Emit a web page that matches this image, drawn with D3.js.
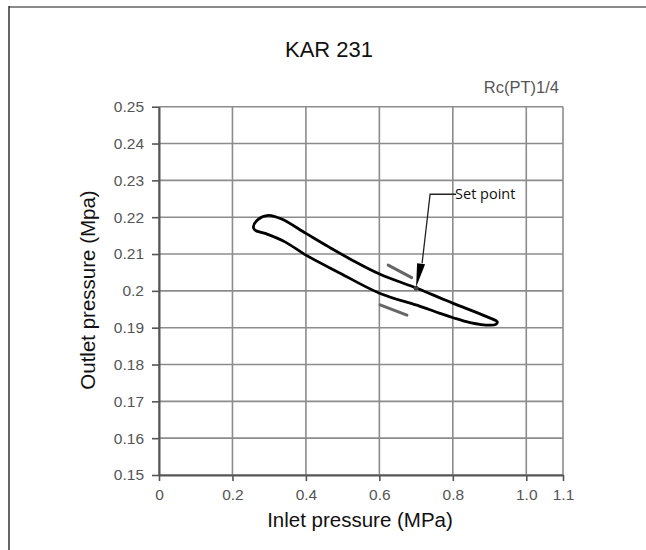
<!DOCTYPE html>
<html>
<head>
<meta charset="utf-8">
<script src="https://cdn.jsdelivr.net/npm/d3@7"></script>
<style>
  html, body { margin: 0; padding: 0; background: #fff; overflow: hidden; }
  svg { display: block; }
</style>
</head>
<body>
<svg id="chart" width="646" height="550"></svg>
<script>
// ---- data ----
const title = "KAR 231";
const portLabel = "Rc(PT)1/4";
const xTickValues = [0, 0.2, 0.4, 0.6, 0.8, 1.0, 1.1];
const xTickLabels = ["0", "0.2", "0.4", "0.6", "0.8", "1.0", "1.1"];
const yTickValues = [0.15, 0.16, 0.17, 0.18, 0.19, 0.2, 0.21, 0.22, 0.23, 0.24, 0.25];
const yTickLabels = ["0.15", "0.16", "0.17", "0.18", "0.19", "0.2", "0.21", "0.22", "0.23", "0.24", "0.25"];
// hysteresis loop (inlet MPa, outlet MPa), traced clockwise
const loopX = [0.257, 0.270, 0.298, 0.334, 0.400, 0.461, 0.525, 0.602, 0.702, 0.765, 0.801, 0.892, 0.921, 0.917,
               0.901, 0.847, 0.801, 0.765, 0.711, 0.602, 0.493, 0.400, 0.343, 0.289, 0.261];
const loopY = [0.2174, 0.2194, 0.2205, 0.2195, 0.2156, 0.2120, 0.2084, 0.2045, 0.2007, 0.1981, 0.1966, 0.1930, 0.1916, 0.1909,
               0.1907, 0.1914, 0.1927, 0.1939, 0.1958, 0.1993, 0.2048, 0.2097, 0.2133, 0.2156, 0.2165];
const setPoint = [0.70, 0.2007];
const setPointLabel = "Set point";
// direction dashes (start/end in data units)
const dashUpper = [[0.624, 0.2070], [0.688, 0.2036]];
const dashLower = [[0.602, 0.1962], [0.675, 0.1934]];
const xTitle = "Inlet pressure (MPa)";
const yTitle = "Outlet pressure (Mpa)";

// ---- layout ----
const svg = d3.select("#chart");
const x = d3.scaleLinear().domain([0, 1.1]).range([159, 563]);
const y = d3.scaleLinear().domain([0.15, 0.25]).range([475, 106.7]);
const sans = "Arial, 'Liberation Sans', sans-serif";

// frame
svg.append("line").attr("x1", 9).attr("x2", 646).attr("y1", 7).attr("y2", 7)
  .attr("stroke", "#8a8a8a").attr("stroke-width", 2);
svg.append("line").attr("x1", 9).attr("x2", 9).attr("y1", 6).attr("y2", 550)
  .attr("stroke", "#333").attr("stroke-width", 1.5);

// title
svg.append("text").attr("x", 329).attr("y", 57).attr("text-anchor", "middle")
  .attr("font-family", sans).attr("font-size", 22)
  .attr("fill", "#111").text(title);
svg.append("text").attr("x", 559).attr("y", 93).attr("text-anchor", "end")
  .attr("font-family", sans).attr("font-size", 16.5)
  .attr("fill", "#555").text(portLabel);

// grid
const grid = svg.append("g");
grid.selectAll("line.v").data(xTickValues).join("line")
  .attr("x1", d => x(d)).attr("x2", d => x(d)).attr("y1", y(0.25)).attr("y2", y(0.15))
  .attr("stroke", "#8c8c8c").attr("stroke-width", 1.6);
grid.selectAll("line.h").data(yTickValues).join("line")
  .attr("x1", x(0)).attr("x2", x(1.1)).attr("y1", d => y(d)).attr("y2", d => y(d))
  .attr("stroke", "#8c8c8c").attr("stroke-width", 1.6);

// axes
const xAxis = d3.axisBottom(x).tickValues(xTickValues).tickFormat((d, i) => xTickLabels[i]).tickSize(6).tickSizeOuter(0).tickPadding(5);
const yAxis = d3.axisLeft(y).tickValues(yTickValues).tickFormat((d, i) => yTickLabels[i]).tickSize(7).tickSizeOuter(0).tickPadding(8);
const gx = svg.append("g").attr("transform", `translate(0,${y(0.15)})`).call(xAxis);
const gy = svg.append("g").attr("transform", `translate(${x(0)},0)`).call(yAxis);
[gx, gy].forEach(g => {
  g.attr("font-size", 15.5).attr("font-family", sans);
  g.select(".domain").attr("stroke", "#555").attr("stroke-width", 2);
  g.selectAll(".tick line").attr("stroke", "#555").attr("stroke-width", 1.6);
  g.selectAll(".tick text").attr("fill", "#555");
});
gx.selectAll(".tick text").attr("dy", "0.9em");

// axis titles
svg.append("text").attr("x", 360).attr("y", 527).attr("text-anchor", "middle")
  .attr("font-family", sans).attr("font-size", 20.5)
  .attr("fill", "#111").text(xTitle);
svg.append("text").attr("transform", `translate(95,290) rotate(-90)`).attr("text-anchor", "middle")
  .attr("font-family", sans).attr("font-size", 20.5)
  .attr("fill", "#111").text(yTitle);

// loop
const pts = loopX.map((v, i) => [x(v), y(loopY[i])]);
svg.append("path").attr("d", d3.line().curve(d3.curveCatmullRomClosed.alpha(0.5))(pts))
  .attr("fill", "none").attr("stroke", "#000").attr("stroke-width", 2.8).attr("stroke-linejoin", "round");

// direction dashes
[dashUpper, dashLower].forEach(dsh => {
  svg.append("line").attr("x1", x(dsh[0][0])).attr("y1", y(dsh[0][1]))
    .attr("x2", x(dsh[1][0])).attr("y2", y(dsh[1][1]))
    .attr("stroke", "#666").attr("stroke-width", 3).attr("stroke-linecap", "round");
});

// set point marker and arrow
const sx = x(setPoint[0]), sy = y(setPoint[1]);
svg.append("circle").attr("cx", sx).attr("cy", sy).attr("r", 2.5).attr("fill", "#444");
svg.append("path")
  .attr("d", `M${sx + 40},${sy - 94} L${sx + 14},${sy - 94} L${sx + 6},${sy - 25}`)
  .attr("fill", "none").attr("stroke", "#222").attr("stroke-width", 1.3);
svg.append("path")
  .attr("d", `M${sx},${sy - 1} L${sx + 1},${sy - 25} L${sx + 9},${sy - 24} Z`)
  .attr("fill", "#000");
svg.append("text").attr("x", sx + 39).attr("y", sy - 89)
  .attr("font-family", "'Open Sans', 'Noto Sans', sans-serif").attr("font-size", 14.5)
  .attr("fill", "#111").text(setPointLabel);
</script>
</body>
</html>
